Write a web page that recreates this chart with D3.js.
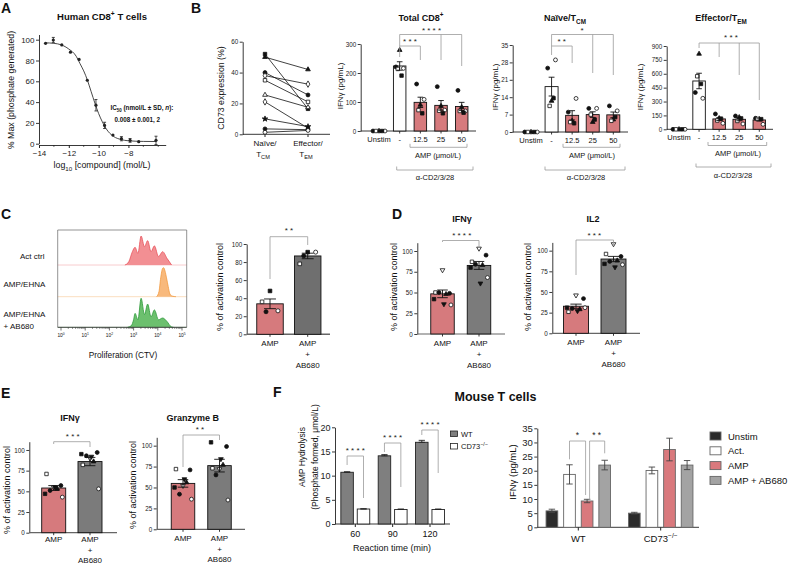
<!DOCTYPE html>
<html>
<head>
<meta charset="utf-8">
<script src="https://cdn.jsdelivr.net/npm/d3@7"></script>
<style>
  body { margin: 0; background: #fff; }
  svg { display: block; }
</style>
</head>
<body>
<script>
// ---------- data ----------
// A: dose response
const aConc = [-13.56, -13.04, -12.47, -11.89, -11.31, -10.76, -10.18, -9.6, -9.04, -8.47, -7.89, -7.31, -6.15];
const aPct = [96.5, 99.7, 95, 88, 81, 61, 37, 17.6, 8.3, 4.8, 3.2, 1.9, 3.2];
const aErr = [0.8, 2.5, 1, 1, 1, 1, 5.5, 3, 0.8, 2, 1.8, 1, 4];
const aFitConc = [-13.6, -13, -12.5, -12, -11.5, -11.25, -11, -10.75, -10.5, -10.25, -10, -9.75, -9.5, -9.25, -9, -8.5, -8, -7, -6.15];
const aFitPct = [97, 96.5, 95, 91, 84, 77, 70, 61, 50, 39, 29, 21, 14.5, 10, 7, 4, 2.8, 2.2, 2.1];

// B: CD73 paired + IFNg
const cd73Naive = [52, 50, 40, 38, 35, 25.5, 21, 10, 3.5, 1.3];
const cd73Effector = [16.5, 42, 25.5, 32.5, 21, 17.5, 4, 5, 3, 2.5];
const cd73Marks = ["s", "t", "c", "d", "so", "to", "d", "st", "c", "co"];
const bGroups = ["Unstim", "-", "12.5", "25", "50"];
const bMarks = ["t", "c", "co", "so", "s"];
const totalCD8 = [[0, 0, 0, 0, 0], [279, 221, 216, 214, 191], [90, 162, 109, 72, 61], [86, 153, 72, 70, 61], [82, 140, 69, 69, 63]];
const naiveTCM = [[0, 0, 0, 0, 0], [12.5, 25.7, 29, 10.5, 13.6], [4.5, 8, 13.5, 4, 3.5], [4, 9.5, 9.5, 7, 5], [5, 10.5, 8.5, 4.5, 6]];
const effTEM = [[0, 0, 0, 0, 0], [815, 397, 335, 573, 490], [119, 166, 65, 95, 115], [130, 144, 58, 90, 118], [110, 119, 54, 112, 110]];

// C: proliferation histograms (log10 CTV, % of mode) + bar
const histActLog = [2.64, 2.8, 2.95, 3.06, 3.18, 3.31, 3.45, 3.58, 3.72, 3.86, 4.03, 4.2, 4.38, 4.57];
const histActPct = [0, 11, 46, 61, 40, 100, 63, 84, 46, 66, 29, 46, 23, 0];
const histEhnaLog = [3.95, 4.05, 4.12, 4.2, 4.24, 4.3, 4.36, 4.43, 4.5, 4.6, 4.75];
const histEhnaPct = [0, 18, 65, 98, 100, 88, 65, 35, 9, 2, 0];
const histAbLog = [2.75, 2.9, 3.0, 3.06, 3.18, 3.31, 3.45, 3.58, 3.72, 3.86, 4.03, 4.2, 4.38, 4.55, 4.65];
const histAbPct = [0, 5, 26, 48, 26, 100, 44, 80, 36, 60, 26, 32, 20, 2, 0];
const cAMP = [48, 36, 26, 25];
const cAB680 = [91, 78, 91, 87];
const cMarks = ["s", "so", "co", "c"];

// D / E: % of activation control
const deMarks = ["vo", "so", "c", "c", "t", "s", "co", "v"];
const dIfngAMP = [77, 50, 49, 50, 48, 42, 35, 36];
const dIfngAB = [103, 87, 95, 84, 83, 80, 68, 61];
const dIl2AMP = [46, 26, 42, 30, 29, 31, 31, 27];
const dIl2AB = [108, 96, 93, 87, 88, 84, 83, 80];
const eIfngAMP = [55, 71, 57, 51, 53, 47, 43, 55];
const eIfngAB = [90, 82, 97, 93, 86, 95, 53, 92];
const eGzbAMP = [52, 72, 71, 42, 56, 50, 36, 60];
const eGzbAB = [72, 73, 99, 65, 77, 104, 35, 84];

// F: mouse T cells
const fTimes = ["60", "90", "120"];
const fWT = [10.7, 14.1, 16.9];
const fWTerr = [0.1, 0.25, 0.4];
const fKO = [3.1, 3.0, 3.0];
const fKOerr = [0.05, 0.1, 0.1];
const f2Geno = ["WT", "CD73-/-"];
const f2Conds = ["Unstim", "Act.", "AMP", "AMP + AB680"];
const f2WT = [5.8, 18.7, 9.3, 22.0];
const f2WTerr = [0.6, 3.4, 0.6, 1.7];
const f2KO = [5.0, 20.1, 27.5, 22.0];
const f2KOerr = [0.3, 1.2, 4.0, 1.6];

// ---------- helpers ----------
const FONT = '"Liberation Sans", Arial, Helvetica, sans-serif';
const RED = "#d67a7d", GREY = "#7b7b7b";
const svg = d3.select("body").append("svg").attr("width", 788).attr("height", 565).style("font-family", FONT);

function txt(g, x, y, s, o = {}) {
  const fs = o.fs || 8;
  const t = g.append("text").attr("x", x).attr("y", y).attr("font-size", fs)
    .attr("text-anchor", o.anchor || "middle").attr("fill", o.fill || "#111");
  if (o.bold) t.attr("font-weight", "bold");
  if (o.rot) t.attr("transform", `rotate(${o.rot},${x},${y})`);
  const parts = typeof s === "string" ? [[s]] : s;
  let shift = 0;
  parts.forEach(([str, k]) => {
    const want = k === "sub" ? 0.3 : k === "sup" ? -0.4 : 0;
    const sp = t.append("tspan").text(str);
    if (want !== shift) sp.attr("dy", (want - shift) * fs);
    shift = want;
    if (k === "sub" || k === "sup") sp.attr("font-size", fs * 0.7);
    if (k === "i") sp.attr("font-style", "italic");
  });
  return t;
}

const SYM = {
  c: [d3.symbolCircle, true], co: [d3.symbolCircle, false],
  s: [d3.symbolSquare, true], so: [d3.symbolSquare, false],
  t: [d3.symbolTriangle, true], to: [d3.symbolTriangle, false],
  v: [d3.symbolTriangle, true, 180], vo: [d3.symbolTriangle, false, 180],
  d: [d3.symbolDiamond, false], st: [d3.symbolStar, true]
};
function marker(g, key, x, y, size) {
  const [type, filled, rot] = SYM[key];
  const sz = type === d3.symbolStar || type === d3.symbolTriangle ? size * 0.8 : size;
  g.append("path").attr("d", d3.symbol().type(type).size(sz)())
    .attr("transform", `translate(${x},${y})` + (rot ? ` rotate(${rot})` : ""))
    .attr("fill", filled ? "#111" : "#fff").attr("stroke", "#111").attr("stroke-width", 0.8);
}
const JIT = [0, -0.3, 0.3, -0.15, 0.15, -0.36, 0.36, 0.06];

function errBar(g, x, yTop, yBot, w, col) {
  g.append("path").attr("d", `M${x},${yBot}V${yTop}M${x - w / 2},${yTop}H${x + w / 2}M${x - w / 2},${yBot}H${x + w / 2}`)
    .attr("stroke", col || "#111").attr("stroke-width", 0.9).attr("fill", "none");
}

function yAxis(g, y, x, ticks, fs) {
  const a = g.append("g").attr("transform", `translate(${x},0)`)
    .call(d3.axisLeft(y).tickValues(ticks).tickSize(3).tickSizeOuter(0).tickPadding(1.5));
  a.select(".domain").attr("stroke", "#222").attr("stroke-width", 0.9);
  a.selectAll(".tick line").attr("stroke", "#222").attr("stroke-width", 0.9);
  a.selectAll("text").attr("font-size", fs).attr("fill", "#222").style("font-family", FONT);
  return a;
}

function bracket(pts) {
  svg.append("path").attr("d", d3.line()(pts)).attr("fill", "none").attr("stroke", "#9a9a9a").attr("stroke-width", 0.8);
}
function stars(x, y, s, fs) { txt(svg, x, y, s, { fs: fs || 8, fill: "#222" }); }

function dotBars(c) {
  const g = svg.append("g");
  const y = d3.scaleLinear().domain(c.dom).range([c.y0, c.yTop]);
  const x = d3.scalePoint().domain(c.cats).range(c.xr);
  yAxis(g, y, c.ax, c.ticks, c.tfs);
  g.append("line").attr("x1", c.ax).attr("x2", c.axEnd).attr("y1", c.y0).attr("y2", c.y0)
    .attr("stroke", c.xCol || "#222").attr("stroke-width", c.xw || 0.9);
  c.cats.forEach((cat, i) => {
    const v = c.vals[i], cx = x(cat);
    const m = d3.mean(v), se = d3.deviation(v) / Math.sqrt(v.length) || 0;
    if (c.fills[i]) g.append("rect").attr("x", cx - c.bw / 2).attr("width", c.bw)
      .attr("y", y(m)).attr("height", c.y0 - y(m)).attr("fill", c.fills[i])
      .attr("stroke", "#111").attr("stroke-width", 0.9);
    g.append("line").attr("x1", cx).attr("x2", cx).attr("y1", c.y0).attr("y2", c.y0 + 2.5).attr("stroke", "#222").attr("stroke-width", 0.9);
    const sp = c.spread ? c.spread[i] : 1;
    v.forEach((d, j) => marker(g, c.marks[j % c.marks.length], cx + JIT[j % JIT.length] * c.bw * sp, y(d), c.ms));
    if (se > 0) errBar(g, cx, y(m + se), y(m - se), c.bw * 0.45);
    c.labels[i].forEach((s, k) => txt(g, cx, c.y0 + c.lab0 + k * c.labDy, s, { fs: c.lfs }));
  });
  if (c.yLabel) txt(g, c.yLabX, c.yLabY, c.yLabel, { fs: c.ylfs, rot: -90 });
  return { g, x, y };
}

function underBracket(x1, x2, yb, label, lx, ly) {
  svg.append("path").attr("d", `M${x1},${yb - 3.5}V${yb}H${x2}V${yb - 3.5}`)
    .attr("fill", "none").attr("stroke", "#9a9a9a").attr("stroke-width", 0.8);
  txt(svg, lx, ly, label, { fs: 7.5 });
}

// ---------- panel letters ----------
[["A", 1, 12.5], ["B", 191, 12.5], ["C", 1, 219], ["D", 392, 219], ["E", 1, 398], ["F", 273, 397]]
  .forEach(([l, x, y]) => txt(svg, x, y, l, { fs: 14, bold: true, anchor: "start" }));

// ---------- A ----------
{
  const g = svg.append("g");
  const x = d3.scaleLinear().domain([-14, -5.5]).range([39, 165.7]);
  const y = d3.scaleLinear().domain([0, 105]).range([143.7, 34.5]);
  yAxis(g, y, 39, [0, 20, 40, 60, 80, 100], 8);
  const xa = g.append("g").attr("transform", "translate(0,145)")
    .call(d3.axisBottom(x).tickValues([-14, -12, -10, -8]).tickSize(3).tickSizeOuter(0).tickPadding(2));
  xa.select(".domain").attr("stroke", "#222").attr("stroke-width", 0.9);
  xa.selectAll("text").attr("font-size", 8).attr("fill", "#222").style("font-family", FONT);
  xa.selectAll(".tick line").attr("stroke", "#222");
  [-13, -11, -9, -7, -6].forEach(v => g.append("line").attr("x1", x(v)).attr("x2", x(v)).attr("y1", 145).attr("y2", 146.8).attr("stroke", "#222").attr("stroke-width", 0.8));
  g.append("path").datum(aFitConc.map((c, i) => [c, aFitPct[i]]))
    .attr("d", d3.line().x(d => x(d[0])).y(d => y(d[1])).curve(d3.curveMonotoneX))
    .attr("fill", "none").attr("stroke", "#333").attr("stroke-width", 0.9);
  aConc.forEach((c, i) => {
    if (aErr[i] > 1.2) errBar(g, x(c), y(aPct[i] + aErr[i]), y(aPct[i] - aErr[i]), 3, "#333");
    g.append("circle").attr("cx", x(c)).attr("cy", y(aPct[i])).attr("r", 1.6).attr("fill", "#222");
  });
  txt(g, 102, 20, [["Human CD8"], ["+", "sup"], [" T cells"]], { fs: 9.5, bold: true });
  txt(g, 14, 90, "% Max (phosphate generated)", { fs: 8.8, rot: -90 });
  txt(g, 102, 168, [["log"], ["10", "sub"], [" [compound] (mol/L)"]], { fs: 8.8 });
  txt(g, 110.5, 110, [["IC"], ["50", "sub"], [" (nmol/L ± SD, "], ["n", "i"], ["):"]], { fs: 6.3, bold: true, anchor: "start" });
  txt(g, 114.5, 121.5, "0.008 ± 0.001, 2", { fs: 6.3, bold: true, anchor: "start" });
}

// ---------- B1 paired ----------
{
  const g = svg.append("g");
  const y = d3.scaleLinear().domain([0, 60]).range([134.3, 41.7]);
  const x = d3.scalePoint().domain(["Naive", "Effector"]).range([265, 308]);
  yAxis(g, y, 242.7, [0, 20, 40, 60], 6.3);
  g.append("line").attr("x1", 242.7).attr("x2", 330).attr("y1", 134.3).attr("y2", 134.3).attr("stroke", "#222").attr("stroke-width", 0.9);
  ["Naive", "Effector"].forEach(k => g.append("line").attr("x1", x(k)).attr("x2", x(k)).attr("y1", 134.3).attr("y2", 137).attr("stroke", "#222"));
  cd73Naive.forEach((v, i) => {
    g.append("line").attr("x1", x("Naive")).attr("x2", x("Effector")).attr("y1", y(v)).attr("y2", y(cd73Effector[i]))
      .attr("stroke", "#111").attr("stroke-width", 0.8);
  });
  cd73Naive.forEach((v, i) => {
    marker(g, cd73Marks[i], x("Naive"), y(v), 12);
    marker(g, cd73Marks[i], x("Effector"), y(cd73Effector[i]), 12);
  });
  txt(g, x("Naive"), 146, "Naïve/", { fs: 8 });
  txt(g, x("Naive") - 2, 157, [["T"], ["CM", "sub"]], { fs: 8 });
  txt(g, x("Effector"), 146, "Effector/", { fs: 8 });
  txt(g, x("Effector") - 2, 157, [["T"], ["EM", "sub"]], { fs: 8 });
  txt(g, 224, 88, "CD73 expression (%)", { fs: 8.8, rot: -90 });
}

// ---------- B2-B4 ----------
const bLabels = bGroups.map(d => [d]);
const bFills = [null, "#fff", RED, RED, RED];
const bSpread = [1.6, 1, 1, 1, 1];
{
  const p = dotBars({ cats: bGroups, vals: totalCD8, fills: bFills, marks: bMarks, spread: bSpread,
    dom: [0, 300], ticks: [0, 100, 200, 300], y0: 131, yTop: 44, xr: [379, 461.7], ax: 360.7, axEnd: 476,
    bw: 12.5, ms: 12, tfs: 6.3, labels: bLabels, lab0: 10.5, labDy: 0, lfs: 7.5,
    yLabel: [["IFN"], ["γ"], [" (pg/mL)"]], yLabX: 343, yLabY: 86, ylfs: 8 });
  txt(svg, 421, 21, [["Total CD8"], ["+", "sup"]], { fs: 9, bold: true });
  const x = p.x;
  bracket([[x("-"), 57], [x("-"), 34.5], [x("50"), 34.5], [x("50"), 66]]);
  bracket([[x("25"), 34.5], [x("25"), 60]]);
  bracket([[x("-"), 46], [x("12.5"), 46], [x("12.5"), 60]]);
  stars(410, 43.5, "* * *"); stars(431.5, 33, "* * * *");
  underBracket(410, 467, 147.3, [["AMP ("], ["μ"], ["mol/L)"]], 438, 158);
  underBracket(396.7, 473, 170, "α-CD2/3/28", 435, 180);
}
{
  const p = dotBars({ cats: bGroups, vals: naiveTCM, fills: bFills, marks: bMarks, spread: bSpread,
    dom: [0, 35], ticks: [0, 7, 14, 21, 28, 35], y0: 132, yTop: 45, xr: [531, 613.3], ax: 512.7, axEnd: 628,
    bw: 13, ms: 12, tfs: 6.3, labels: bLabels, lab0: 10.5, labDy: 0, lfs: 7.5,
    yLabel: [["IFN"], ["γ"], [" (pg/mL)"]], yLabX: 497.5, yLabY: 87, ylfs: 8 });
  txt(svg, 565, 21, [["Naïve/T"], ["CM", "sub"]], { fs: 9, bold: true });
  const x = p.x;
  bracket([[x("-"), 55], [x("-"), 34.5], [x("50"), 34.5], [x("50"), 75]]);
  bracket([[x("25"), 34.5], [x("25"), 73]]);
  bracket([[x("-"), 46], [x("12.5"), 46], [x("12.5"), 63]]);
  stars(561.7, 43.5, "* *"); stars(582, 33, "*");
  underBracket(563, 620, 147.3, [["AMP ("], ["μ"], ["mol/L)"]], 592, 158);
  underBracket(545, 625, 170, "α-CD2/3/28", 586, 180);
}
{
  const p = dotBars({ cats: bGroups, vals: effTEM, fills: bFills, marks: bMarks, spread: bSpread,
    dom: [0, 900], ticks: [0, 150, 300, 450, 600, 750, 900], y0: 129.3, yTop: 46, xr: [679, 759.3], ax: 666.7, axEnd: 773,
    bw: 12.5, ms: 12, tfs: 6.3, labels: bLabels, lab0: 10.5, labDy: 0, lfs: 7.5,
    yLabel: [["IFN"], ["γ"], [" (pg/mL)"]], yLabX: 643, yLabY: 87, ylfs: 8 });
  txt(svg, 721, 21, [["Effector/T"], ["EM", "sub"]], { fs: 9, bold: true });
  const x = p.x;
  bracket([[x("-"), 48], [x("-"), 43], [x("50"), 43], [x("50"), 100]]);
  bracket([[x("12.5"), 43], [x("12.5"), 57]]);
  bracket([[x("25"), 43], [x("25"), 75]]);
  stars(731, 39.5, "* * *");
  underBracket(708, 766.7, 145.5, [["AMP ("], ["μ"], ["mol/L)"]], 738, 156);
  underBracket(696, 771, 167, "α-CD2/3/28", 733, 177.5);
}

// ---------- C histograms ----------
{
  const g = svg.append("g");
  const x = d3.scaleLog().domain([1, 1e5]).range([61, 182]);
  const h = d3.scaleLinear().domain([0, 100]).range([0, 29]);
  const rows = [
    { log: histActLog, pct: histActPct, base: 265, fill: "#f28f93", line: "#e8535c", pale: "#f7c6c8" },
    { log: histEhnaLog, pct: histEhnaPct, base: 296.7, fill: "#f8b97c", line: "#f29a40", pale: "#fbdab8" },
    { log: histAbLog, pct: histAbPct, base: 327.3, fill: "#6cc06e", line: "#2f9b3b", pale: "#b9dfba" }
  ];
  rows.forEach(r => {
    g.append("line").attr("x1", 57.7).attr("x2", 186.7).attr("y1", r.base).attr("y2", r.base).attr("stroke", r.pale).attr("stroke-width", 0.9);
    const pts = r.log.map((l, i) => [l, r.pct[i]]);
    g.append("path").datum(pts)
      .attr("d", d3.area().x(d => x(10 ** d[0])).y0(r.base).y1(d => r.base - h(d[1])).curve(d3.curveMonotoneX))
      .attr("fill", r.fill).attr("stroke", "none");
    g.append("path").datum(pts)
      .attr("d", d3.line().x(d => x(10 ** d[0])).y(d => r.base - h(d[1])).curve(d3.curveMonotoneX))
      .attr("fill", "none").attr("stroke", r.line).attr("stroke-width", 0.8);
  });
  g.append("path").attr("d", "M57.7,327.3V230H186.7V327.3").attr("fill", "none").attr("stroke", "#666").attr("stroke-width", 0.7);
  g.append("line").attr("x1", 57.7).attr("x2", 186.7).attr("y1", 327.3).attr("y2", 327.3).attr("stroke", "#333").attr("stroke-width", 0.9);
  for (let e = 0; e <= 5; e++) {
    g.append("line").attr("x1", x(10 ** e)).attr("x2", x(10 ** e)).attr("y1", 327.3).attr("y2", 330.5).attr("stroke", "#333").attr("stroke-width", 0.7);
    txt(g, x(10 ** e), 337, [["10"], [String(e), "sup"]], { fs: 4.8 });
    if (e < 5) for (let k = 2; k < 10; k++) {
      g.append("line").attr("x1", x(k * 10 ** e)).attr("x2", x(k * 10 ** e)).attr("y1", 327.3).attr("y2", 329).attr("stroke", "#333").attr("stroke-width", 0.5);
    }
  }
  txt(g, 20, 259, "Act ctrl", { fs: 8, anchor: "start" });
  txt(g, 3.5, 287, "AMP/EHNA", { fs: 8, anchor: "start" });
  txt(g, 3.5, 317, "AMP/EHNA", { fs: 8, anchor: "start" });
  txt(g, 3.5, 329, "+ AB680", { fs: 8, anchor: "start" });
  txt(g, 123, 358, "Proliferation (CTV)", { fs: 8.3 });
}

// ---------- C bars, D, E ----------
const abLabels = [["AMP"], ["AMP", "+", "AB680"]];
const twoCats = ["AMP", "AMP + AB680"];
const pctLabel = "% of activation control";
{
  const p = dotBars({ cats: twoCats, vals: [cAMP, cAB680], fills: [RED, "#6f6f6f"], marks: cMarks,
    dom: [0, 100], ticks: [0, 20, 40, 60, 80, 100], y0: 334.3, yTop: 244, xr: [270, 307.7], ax: 246.7, axEnd: 330,
    xCol: "#666", xw: 1.4, bw: 26.5, ms: 13, tfs: 6.3, labels: abLabels, lab0: 12, labDy: 11, lfs: 8,
    yLabel: pctLabel, yLabX: 223, yLabY: 287, ylfs: 9 });
  const x = p.x;
  bracket([[x("AMP"), 279], [x("AMP"), 236.7], [x("AMP + AB680"), 236.7], [x("AMP + AB680"), 245]]);
  stars(289, 233, "* *");
}
{
  const p = dotBars({ cats: twoCats, vals: [dIfngAMP, dIfngAB], fills: [RED, GREY], marks: deMarks,
    dom: [0, 110], ticks: [0, 25, 50, 75, 100], y0: 334, yTop: 242.7, xr: [442.5, 479], ax: 417.3, axEnd: 505,
    xCol: "#666", xw: 1.2, bw: 23.5, ms: 12, tfs: 6.3, labels: abLabels, lab0: 12, labDy: 11, lfs: 8,
    yLabel: pctLabel, yLabX: 397, yLabY: 287, ylfs: 9 });
  txt(svg, 462, 222, [["IFN"], ["γ"]], { fs: 9, bold: true });
  const x = p.x;
  bracket([[x("AMP"), 242], [x("AMP"), 240.5], [x("AMP + AB680"), 240.5], [x("AMP + AB680"), 247]]);
  stars(461.7, 238, "* * * *");
}
{
  const p = dotBars({ cats: twoCats, vals: [dIl2AMP, dIl2AB], fills: [RED, GREY], marks: deMarks,
    dom: [0, 110], ticks: [0, 25, 50, 75, 100], y0: 333.3, yTop: 242.4, xr: [576, 613.5], ax: 552.3, axEnd: 640,
    xCol: "#666", xw: 1.2, bw: 25, ms: 12, tfs: 6.3, labels: abLabels, lab0: 12, labDy: 11, lfs: 8,
    yLabel: pctLabel, yLabX: 531, yLabY: 287, ylfs: 9 });
  txt(svg, 593, 222, "IL2", { fs: 9, bold: true });
  const x = p.x;
  bracket([[x("AMP"), 275], [x("AMP"), 240], [x("AMP + AB680"), 240], [x("AMP + AB680"), 245]]);
  stars(594.3, 237.5, "* * *");
}
{
  const p = dotBars({ cats: twoCats, vals: [eIfngAMP, eIfngAB], fills: [RED, GREY], marks: deMarks,
    dom: [0, 110], ticks: [0, 25, 50, 75, 100], y0: 532.7, yTop: 441.7, xr: [53.7, 90], ax: 29.3, axEnd: 117,
    xCol: "#666", xw: 1.2, bw: 24, ms: 12, tfs: 6.3, labels: abLabels, lab0: 9.5, labDy: 10.5, lfs: 8,
    yLabel: pctLabel, yLabX: 10, yLabY: 490, ylfs: 9 });
  txt(svg, 70, 421, [["IFN"], ["γ"]], { fs: 9, bold: true });
  const x = p.x;
  bracket([[x("AMP"), 444], [x("AMP"), 441.7], [x("AMP + AB680"), 441.7], [x("AMP + AB680"), 447]]);
  stars(72.7, 439, "* * *");
}
{
  const p = dotBars({ cats: twoCats, vals: [eGzbAMP, eGzbAB], fills: [RED, GREY], marks: deMarks,
    dom: [0, 110], ticks: [0, 25, 50, 75, 100], y0: 529.3, yTop: 437.3, xr: [183, 219.5], ax: 156.7, axEnd: 245,
    xCol: "#666", xw: 1.2, bw: 23.5, ms: 12, tfs: 6.3, labels: abLabels, lab0: 12, labDy: 10.5, lfs: 8,
    yLabel: pctLabel, yLabX: 136, yLabY: 485, ylfs: 9 });
  txt(svg, 192.7, 421, "Granzyme B", { fs: 9, bold: true });
  const x = p.x;
  bracket([[x("AMP"), 467], [x("AMP"), 435], [x("AMP + AB680"), 435], [x("AMP + AB680"), 440]]);
  stars(200, 432, "* *");
}

// ---------- F ----------
txt(svg, 495.5, 401, "Mouse T cells", { fs: 12.5, bold: true });
{
  const g = svg.append("g");
  const x = d3.scalePoint().domain(fTimes).range([355.3, 430]);
  const inner = d3.scalePoint().domain(["WT", "KO"]).range([-8.2, 8.2]);
  const y = d3.scaleLinear().domain([0, 20]).range([524, 427.3]);
  yAxis(g, y, 335, [0, 5, 10, 15, 20], 9);
  g.append("line").attr("x1", 335).attr("x2", 450).attr("y1", 524).attr("y2", 524).attr("stroke", "#222").attr("stroke-width", 0.9);
  const bw = 12.5;
  fTimes.forEach((t, i) => {
    [["WT", fWT[i], fWTerr[i], "#7f7f7f"], ["KO", fKO[i], fKOerr[i], "#fff"]].forEach(([k, v, e, f]) => {
      const cx = x(t) + inner(k);
      g.append("rect").attr("x", cx - bw / 2).attr("width", bw).attr("y", y(v)).attr("height", 524 - y(v))
        .attr("fill", f).attr("stroke", "#222").attr("stroke-width", 0.9);
      errBar(g, cx, y(v + e), y(v), bw * 0.5, "#222");
    });
    g.append("line").attr("x1", x(t)).attr("x2", x(t)).attr("y1", 524).attr("y2", 527).attr("stroke", "#222");
    txt(g, x(t), 536.5, t, { fs: 9 });
  });
  txt(g, 392, 550.5, "Reaction time (min)", { fs: 9 });
  txt(g, 305, 457, "AMP Hydrolysis", { fs: 8.5, rot: -90 });
  txt(g, 318, 457, [["(Phosphate formed, "], ["μ"], ["mol/L)"]], { fs: 8.5, rot: -90 });
  const sig = [[456, 465, 498], [443, 452, 487], [430, 435, 473]];
  fTimes.forEach((t, i) => {
    const [ly, d1, d2] = sig[i];
    bracket([[x(t) + inner("WT"), d1], [x(t) + inner("WT"), ly], [x(t) + inner("KO"), ly], [x(t) + inner("KO"), d2]]);
    stars(x(t), ly - 3, "* * * *");
  });
  g.append("rect").attr("x", 450.5).attr("y", 431).attr("width", 7).attr("height", 5.5).attr("fill", "#7f7f7f").attr("stroke", "#222").attr("stroke-width", 0.8);
  txt(g, 461, 436.5, "WT", { fs: 7.5, anchor: "start" });
  g.append("rect").attr("x", 450.5).attr("y", 443.5).attr("width", 7).attr("height", 5.5).attr("fill", "#fff").attr("stroke", "#222").attr("stroke-width", 0.8);
  txt(g, 461, 449, [["CD73"], ["−/−", "sup"]], { fs: 7.5, anchor: "start" });
}
{
  const g = svg.append("g");
  const x = d3.scalePoint().domain(f2Geno).range([578.3, 660.7]);
  const inner = d3.scalePoint().domain(f2Conds).range([-26.4, 26.4]);
  const y = d3.scaleLinear().domain([0, 35]).range([527.3, 428.3]);
  const fills = ["#2b2b2b", "#fff", "#d9797d", "#a3a3a3"];
  yAxis(g, y, 537.3, [0, 5, 10, 15, 20, 25, 30, 35], 9.5);
  g.append("line").attr("x1", 537.3).attr("x2", 699).attr("y1", 527.3).attr("y2", 527.3).attr("stroke", "#222").attr("stroke-width", 0.9);
  const bw = 11.7;
  [[f2WT, f2WTerr], [f2KO, f2KOerr]].forEach(([vals, errs], gi) => {
    const geno = f2Geno[gi];
    f2Conds.forEach((c, i) => {
      const cx = x(geno) + inner(c);
      g.append("rect").attr("x", cx - bw / 2).attr("width", bw).attr("y", y(vals[i])).attr("height", 527.3 - y(vals[i]))
        .attr("fill", fills[i]).attr("stroke", "#666").attr("stroke-width", 0.9);
      errBar(g, cx, y(vals[i] + errs[i]), y(vals[i] - errs[i]), bw * 0.55, "#444");
    });
    g.append("line").attr("x1", x(geno)).attr("x2", x(geno)).attr("y1", 527.3).attr("y2", 530.5).attr("stroke", "#222");
  });
  txt(g, x("WT"), 541.5, "WT", { fs: 9.5 });
  txt(g, x("CD73-/-"), 541.5, [["CD73"], ["−/−", "sup"]], { fs: 9.5 });
  txt(g, 516, 472, [["IFN"], ["γ"], [" (pg/mL)"]], { fs: 9.5, rot: -90 });
  const xw = c => x("WT") + inner(c);
  bracket([[xw("Act."), 459.3], [xw("Act."), 441], [xw("AMP") - 1.5, 441], [xw("AMP") - 1.5, 495]]);
  bracket([[xw("AMP") + 2.5, 500], [xw("AMP") + 2.5, 441], [xw("AMP + AB680"), 441], [xw("AMP + AB680"), 453.3]]);
  stars(577.3, 438, "*", 8.5); stars(596.7, 438, "* *", 8.5);
  f2Conds.forEach((c, i) => {
    const ly = 436 + i * 14.8;
    g.append("rect").attr("x", 710).attr("y", ly - 4).attr("width", 11).attr("height", 8)
      .attr("fill", fills[i]).attr("stroke", "#666").attr("stroke-width", 0.9);
    txt(g, 728, ly + 3.5, c, { fs: 9.5, anchor: "start" });
  });
}
</script>
</body>
</html>
